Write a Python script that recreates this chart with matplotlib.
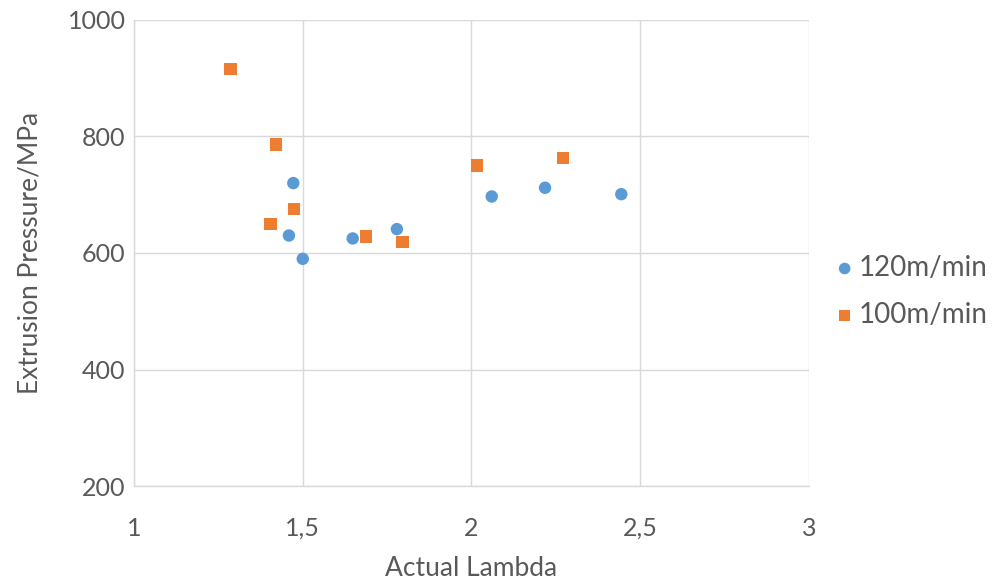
import matplotlib
matplotlib.use("Agg")
import matplotlib.pyplot as plt
from matplotlib.ticker import FuncFormatter, MultipleLocator

# Extrusion measurements at two drawing speeds
lambda_120 = [1.472, 1.459, 1.500, 1.648, 1.779, 2.060, 2.218, 2.444]
pressure_120 = [720, 630, 590, 625, 641, 697, 712, 701]

lambda_100 = [1.286, 1.420, 1.405, 1.474, 1.687, 1.795, 2.017, 2.271]
pressure_100 = [916, 786, 650, 676, 628, 619, 750, 763]

series_labels = ["120m/min", "100m/min"]

plt.rcParams["font.family"] = ["Lato", "DejaVu Sans"]
text_color = "#595959"
grid_color = "#D9D9D9"

fig = plt.figure(figsize=(9.95, 5.81), dpi=100)
ax = fig.add_axes([0.1347, 0.1635, 0.6783, 0.8021])

ax.scatter(lambda_120, pressure_120, marker="o", s=80, color="#5B9BD5",
           edgecolors="none", label=series_labels[0], zorder=3)
ax.scatter(lambda_100, pressure_100, marker="s", s=80, color="#ED7D31",
           edgecolors="none", label=series_labels[1], zorder=3)

ax.set_xlim(1, 3)
ax.set_ylim(200, 1000)
ax.xaxis.set_major_locator(MultipleLocator(0.5))
ax.yaxis.set_major_locator(MultipleLocator(200))

def comma_fmt(v, pos):
    return ("%g" % v).replace(".", ",")

ax.xaxis.set_major_formatter(FuncFormatter(comma_fmt))
ax.yaxis.set_major_formatter(FuncFormatter(comma_fmt))

ax.grid(True, color=grid_color, linewidth=1.0)
ax.set_axisbelow(True)
for side in ["top", "right"]:
    ax.spines[side].set_visible(False)
for side in ["left", "bottom"]:
    ax.spines[side].set_color(grid_color)
    ax.spines[side].set_linewidth(1.0)

ax.tick_params(axis="both", length=0, labelsize=18, colors=text_color)
ax.tick_params(axis="x", pad=22)
ax.tick_params(axis="y", pad=6)

ax.set_xlabel("Actual Lambda", fontsize=19, color=text_color, labelpad=12)
ax.set_ylabel("Extrusion Pressure/MPa", fontsize=19, color=text_color, labelpad=18)

leg = ax.legend(loc="center left", bbox_to_anchor=(1.02, 0.418), frameon=False,
                fontsize=20, handletextpad=0.1, labelspacing=0.75,
                handlelength=0.8, borderaxespad=0)
for t in leg.get_texts():
    t.set_color(text_color)
for h in leg.legend_handles:
    h.set_sizes([70])

fig.savefig("out.png", dpi=100)
